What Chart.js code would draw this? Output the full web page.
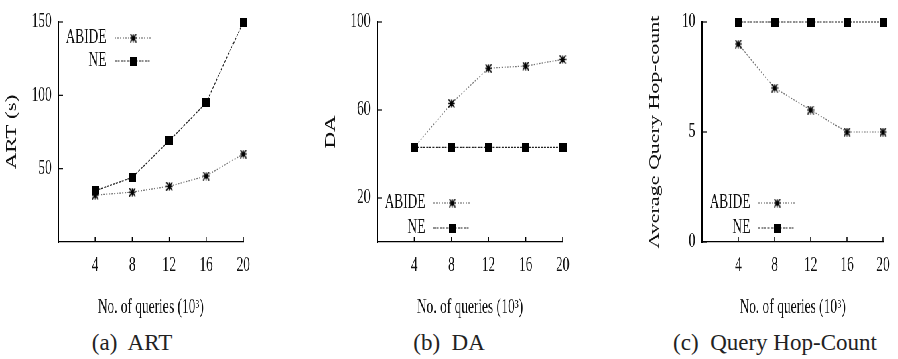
<!DOCTYPE html>
<html>
<head>
<meta charset="utf-8">
<script src="https://cdn.jsdelivr.net/npm/chart.js@4.4.0/dist/chart.umd.min.js"></script>
<style>
body { margin: 0; background: #fff; width: 898px; height: 359px; overflow: hidden; position: relative; }
#fig { position: absolute; left: 0; top: 0; width: 1340px; height: 320px; transform: scaleX(0.67); transform-origin: 0 0; }
#fig canvas { position: absolute; top: 0; }
.cap { position: absolute; top: 330px; font-family: 'Liberation Serif', serif; font-size: 23px; color: #222; white-space: pre; transform: translateX(-50%); }
</style>
</head>
<body>
<div id="fig">
  <canvas id="art" width="448" height="320" style="left:0"></canvas>
  <canvas id="da" width="448" height="320" style="left:448px"></canvas>
  <canvas id="hop" width="444" height="320" style="left:896px"></canvas>
</div>
<div class="cap" style="left:132px">(a)  ART</div>
<div class="cap" style="left:449px">(b)  DA</div>
<div class="cap" style="left:775px">(c)  Query Hop-Count</div>
<script>
var queries = [4, 8, 12, 16, 20];
var xTicks = [4, 8, 12, 16, 20];

var artAbide = [32, 34, 38, 45, 60];
var artNe = [35, 44, 69, 95, 150];
var artTicks = [50, 100, 150];

var daAbide = [43, 63, 79, 80, 83];
var daNe = [43, 43, 43, 43, 43];
var daTicks = [20, 60, 100];

var hopAbide = [9, 7, 6, 5, 5];
var hopNe = [10, 10, 10, 10, 10];
var hopTicks = [0, 5, 10];

var serif = "'Liberation Serif', 'Times New Roman', serif";

// markers are drawn wider than tall because the whole figure is squeezed by scaleX
function marker(kind) {
  var c = document.createElement('canvas');
  c.width = 11; c.height = 9;
  var g = c.getContext('2d');
  if (kind == 'square') {
    g.fillStyle = '#000';
    g.fillRect(0, 0, 11, 9);
  } else {
    g.strokeStyle = '#000';
    g.lineWidth = 1.6;
    g.beginPath();
    g.moveTo(5.5, 0.5); g.lineTo(5.5, 8.5);
    g.moveTo(0.5, 4.5); g.lineTo(10.5, 4.5);
    g.moveTo(1, 0.5); g.lineTo(10, 8.5);
    g.moveTo(10, 0.5); g.lineTo(1, 8.5);
    g.stroke();
  }
  return c;
}

function series(label, ys, kind) {
  return {
    label: label,
    data: queries.map(function (q, i) { return {x: q, y: ys[i]}; }),
    borderColor: kind == 'square' ? '#222' : '#777',
    borderWidth: 1.2,
    borderDash: kind == 'square' ? [3, 1.5] : [2, 2],
    pointStyle: marker(kind),
    pointRadius: 5,
    clip: false,
    tension: 0
  };
}

var inwardTicks = {
  id: 'inwardTicks',
  afterDraw: function (chart) {
    var ctx = chart.ctx, x = chart.scales.x, y = chart.scales.y;
    ctx.save();
    ctx.strokeStyle = '#000';
    ctx.lineWidth = 1.5;
    x.ticks.forEach(function (t) {
      var px = x.getPixelForValue(t.value);
      ctx.beginPath(); ctx.moveTo(px, y.bottom); ctx.lineTo(px, y.bottom - 5); ctx.stroke();
    });
    ctx.lineWidth = 1.2;
    y.ticks.forEach(function (t) {
      var py = y.getPixelForValue(t.value);
      ctx.beginPath(); ctx.moveTo(x.left, py); ctx.lineTo(x.left + 7, py); ctx.stroke();
    });
    ctx.restore();
  }
};

var keyBox = {
  id: 'keyBox',
  afterDraw: function (chart, args, opts) {
    var a = chart.chartArea, ctx = chart.ctx;
    var rows = opts.at == 'top' ? [a.top + 16, a.top + 39] : [a.bottom - 39, a.bottom - 14];
    ctx.save();
    ctx.font = '20px ' + serif;
    ctx.textAlign = 'right';
    ctx.textBaseline = 'middle';
    chart.data.datasets.forEach(function (ds, i) {
      var yy = rows[i];
      ctx.fillStyle = '#111';
      ctx.fillText(ds.label, a.left + 72, yy);
      ctx.strokeStyle = ds.borderColor;
      ctx.lineWidth = ds.borderWidth;
      ctx.setLineDash(ds.borderDash);
      ctx.beginPath(); ctx.moveTo(a.left + 84, yy); ctx.lineTo(a.left + 139, yy); ctx.stroke();
      ctx.setLineDash([]);
      var m = ds.pointStyle;
      ctx.drawImage(m, a.left + 112 - m.width / 2, yy - m.height / 2);
    });
    ctx.restore();
  }
};

function panel(id, title, abide, ne, yMax, yTicks, left, padRight, titlePad, keyAt, titleSize) {
  return new Chart(document.getElementById(id), {
    type: 'line',
    data: {datasets: [series('ABIDE', abide, 'star'), series('NE', ne, 'square')]},
    options: {
      responsive: false,
      animation: false,
      devicePixelRatio: 1,
      layout: {padding: {left: 0, right: padRight, top: 14, bottom: 0}},
      plugins: {legend: {display: false}, tooltip: {enabled: false}, keyBox: {at: keyAt}},
      scales: {
        x: {
          type: 'linear', min: 0, max: 20,
          afterBuildTicks: function (s) { s.ticks = xTicks.map(function (v) { return {value: v}; }); },
          afterFit: function (s) { s.height = 78; },
          grid: {display: false, drawTicks: false},
          border: {display: true, color: '#000', width: 1.3},
          ticks: {font: {family: serif, size: 20}, color: '#111', padding: 12, maxRotation: 0, autoSkip: false},
          title: {display: true, text: 'No. of queries (10³)', font: {family: serif, size: 20}, color: '#111', padding: {top: 0, bottom: 0}}
        },
        y: {
          type: 'linear', min: 0, max: yMax,
          afterBuildTicks: function (s) { s.ticks = yTicks.map(function (v) { return {value: v}; }); },
          afterFit: function (s) { s.width = left; },
          grid: {display: false, drawTicks: false},
          border: {display: true, color: '#000', width: 2},
          ticks: {font: {family: serif, size: 20}, color: '#111', padding: 10},
          title: {display: true, text: title, font: {family: serif, size: titleSize}, color: '#111', padding: {top: titlePad, bottom: 0}}
        }
      }
    },
    plugins: [inwardTicks, keyBox]
  });
}

panel('art', 'ART (s)', artAbide, artNe, 150, artTicks, 87, 85, 4, 'top', 23);
panel('da', 'DA', daAbide, daNe, 100, daTicks, 115, 56, 32, 'bottom', 23);
panel('hop', 'Average Query Hop-count', hopAbide, hopNe, 10, hopTicks, 152, 16, 68, 'bottom', 22);
</script>
</body>
</html>
